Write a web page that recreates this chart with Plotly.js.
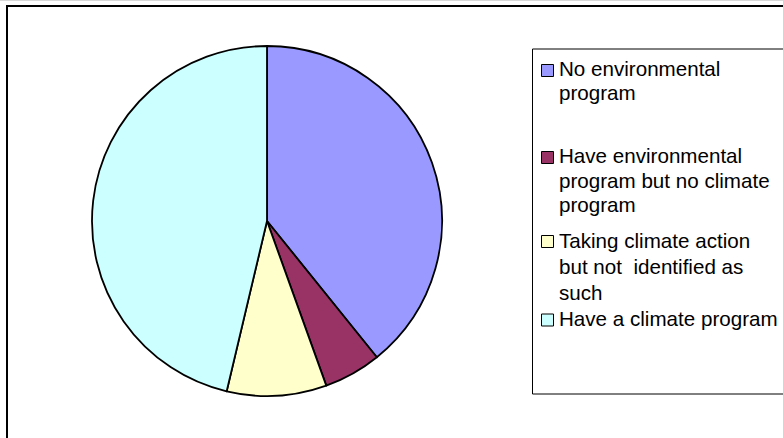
<!DOCTYPE html>
<html>
<head>
<meta charset="utf-8">
<script src="https://cdn.plot.ly/plotly-3.0.1.min.js"></script>
<style>html,body{margin:0;padding:0;background:#fff;}#chart{width:783px;height:438px;}</style>
</head>
<body>
<div id="chart"></div>
<script>
// ---- data ----
var categories = [
  "No environmental program",
  "Have environmental program but no climate program",
  "Taking climate action but not  identified as such",
  "Have a climate program"
];
var legendLines = [
  ["No environmental", "program"],
  ["Have environmental", "program but no climate", "program"],
  ["Taking climate action", "but not\u00a0 identified as", "such"],
  ["Have a climate program"]
];
var values = [39.2, 5.3, 9.2, 46.3];
var colors = ["#9999FF", "#993366", "#FFFFCC", "#CCFFFF"];

// ---- layout helpers (pixel -> paper) ----
var W = 783, H = 438;
function px(x){ return x / W; }
function py(y){ return 1 - y / H; }

var legendLineCenters = [[68, 93], [155, 180, 205], [240, 266, 292], [318]];
var swatchCenters = [70.5, 157.5, 241.5, 320];

var shapes = [
  {type:"line", xref:"paper", yref:"paper", x0:0, x1:1, y0:py(0.5), y1:py(0.5), line:{color:"#d8d8d8", width:1}},
  {type:"rect", xref:"paper", yref:"paper", x0:px(7), x1:px(800), y0:py(460), y1:py(6), line:{color:"#000", width:2}},
  {type:"rect", xref:"paper", yref:"paper", x0:px(532.5), x1:px(800), y0:py(394), y1:py(49), line:{color:"#000", width:1}}
];
var annotations = [];
for (var i = 0; i < categories.length; i++) {
  shapes.push({type:"rect", xref:"paper", yref:"paper",
    x0:px(541.5), x1:px(553.5), y0:py(swatchCenters[i]+6), y1:py(swatchCenters[i]-6),
    fillcolor: colors[i], line:{color:"#000", width:1}});
  for (var j = 0; j < legendLines[i].length; j++) {
    annotations.push({xref:"paper", yref:"paper", x:px(556.5), y:py(legendLineCenters[i][j]),
      xanchor:"left", yanchor:"middle", align:"left", showarrow:false,
      text: legendLines[i][j],
      font:{family:"Liberation Sans, Arial, sans-serif", size:20.6, color:"#000"}});
  }
}

var trace = {
  type: "pie",
  labels: categories,
  values: values,
  sort: false,
  direction: "clockwise",
  rotation: 0,
  textinfo: "none",
  hoverinfo: "label+percent",
  marker: {colors: colors, line: {color: "#000", width: 1.8}},
  domain: {x: [px(92), px(442)], y: [py(396), py(46)]}
};

var layout = {
  width: W, height: H,
  margin: {l:0, r:0, t:0, b:0},
  paper_bgcolor: "#fff",
  showlegend: false,
  shapes: shapes,
  annotations: annotations
};

Plotly.newPlot("chart", [trace], layout, {displayModeBar:false, staticPlot:true});
</script>
</body>
</html>
